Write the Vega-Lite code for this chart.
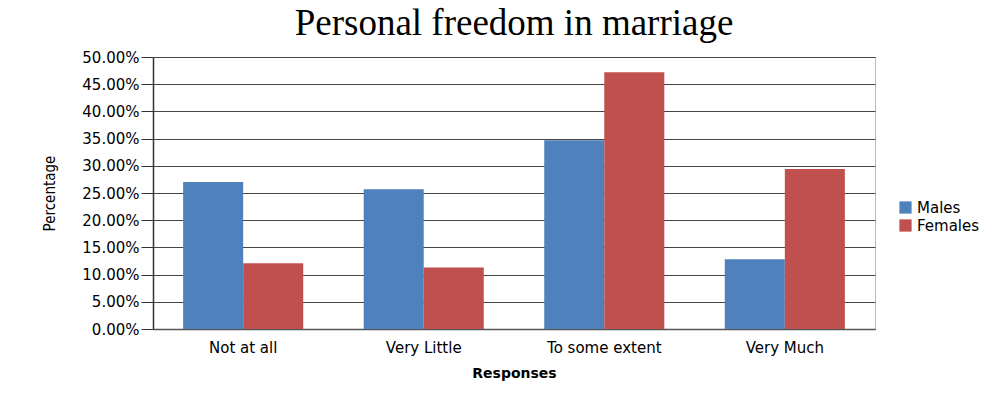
{
  "$schema": "https://vega.github.io/schema/vega-lite/v6.json",
  "autosize": {"type": "none"},
  "width": 722,
  "height": 272,
  "padding": {"left": 153, "top": 57, "right": 133, "bottom": 65},
  "background": "white",
  "title": {
    "text": "Personal freedom in marriage",
    "font": "Liberation Serif",
    "fontSize": 37,
    "fontWeight": "normal",
    "color": "#000",
    "anchor": "middle",
    "frame": "group",
    "offset": 7
  },
  "data": {
    "values": [
      {"response": "Not at all", "gender": "Males", "value": 0.27},
      {"response": "Not at all", "gender": "Females", "value": 0.121},
      {"response": "Very Little", "gender": "Males", "value": 0.257},
      {"response": "Very Little", "gender": "Females", "value": 0.113},
      {"response": "To some extent", "gender": "Males", "value": 0.347},
      {"response": "To some extent", "gender": "Females", "value": 0.472},
      {"response": "Very Much", "gender": "Males", "value": 0.128},
      {"response": "Very Much", "gender": "Females", "value": 0.294}
    ]
  },
  "mark": {"type": "bar"},
  "encoding": {
    "x": {
      "field": "response",
      "type": "nominal",
      "sort": ["Not at all", "Very Little", "To some extent", "Very Much"],
      "scale": {"paddingInner": 0.335, "paddingOuter": 0.167},
      "axis": {
        "title": "Responses",
        "titleFont": "DejaVu Sans",
        "titleFontSize": 14,
        "titleFontWeight": "bold",
        "titleColor": "#000",
        "titlePadding": 11,
        "labelAngle": 0,
        "labelFont": "DejaVu Sans",
        "labelFontSize": 15,
        "labelColor": "#000",
        "labelPadding": 11,
        "ticks": false,
        "domainColor": "#555",
        "domainWidth": 1.5
      }
    },
    "xOffset": {"field": "gender", "type": "nominal", "sort": ["Males", "Females"], "scale": {"paddingInner": 0, "paddingOuter": 0}},
    "y": {
      "field": "value",
      "type": "quantitative",
      "scale": {"domain": [0, 0.5], "nice": false},
      "axis": {
        "title": "Percentage",
        "titleFont": "DejaVu Sans Condensed",
        "titleFontSize": 15,
        "titleFontWeight": "normal",
        "titleColor": "#000",
        "titlePadding": 24,
        "format": ".2%",
        "values": [0, 0.05, 0.1, 0.15, 0.2, 0.25, 0.3, 0.35, 0.4, 0.45, 0.5],
        "labelFont": "DejaVu Sans",
        "labelFontSize": 15,
        "labelColor": "#000",
        "labelPadding": 2,
        "tickSize": 12,
        "tickColor": "#333",
        "domainColor": "#333",
        "domainWidth": 1.5,
        "gridColor": "#444",
        "gridWidth": 1.2
      }
    },
    "color": {
      "field": "gender",
      "type": "nominal",
      "sort": ["Males", "Females"],
      "scale": {"domain": ["Males", "Females"], "range": ["#4F81BD", "#C0504D"]},
      "legend": {
        "title": null,
        "orient": "none",
        "legendX": 745,
        "legendY": 143,
        "symbolType": "square",
        "symbolSize": 150,
        "symbolStrokeWidth": 0,
        "labelFont": "DejaVu Sans",
        "labelFontSize": 15,
        "labelColor": "#000",
        "rowPadding": 2
      }
    }
  },
  "config": {
    "view": {"stroke": "#bbb", "strokeWidth": 1}
  }
}
